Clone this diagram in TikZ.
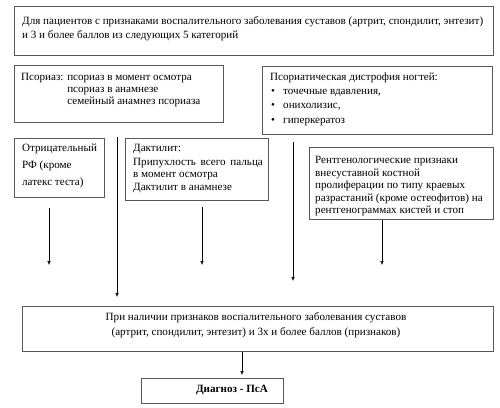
\documentclass[tikz,border=0pt]{standalone}
\usepackage{fontspec}
\setmainfont{Liberation Serif}
\usetikzlibrary{arrows.meta}
\begin{document}
\begin{tikzpicture}[x=1pt,y=-1pt,
  box/.style={draw=black!65,line width=0.8pt,rectangle,inner sep=0pt,anchor=north west},
  txt/.style={inner sep=0pt,anchor=base west,font=\fontsize{11.1}{13}\selectfont},
  ctxt/.style={inner sep=0pt,anchor=base,font=\fontsize{11.1}{13}\selectfont},
  arr/.style={draw=black,line width=0.6pt,-{Latex[length=4pt,width=3.6pt]}}]
\useasboundingbox (0,0) rectangle (500,407);
% boxes
\node[box,minimum width=479pt,minimum height=49pt] (top) at (14,6) {};
\node[box,minimum width=209pt,minimum height=57pt] (pso) at (14,65) {};
\node[box,minimum width=230pt,minimum height=68pt] (nail) at (262,66) {};
\node[box,minimum width=90pt,minimum height=59pt] (rf) at (14,138) {};
\node[box,minimum width=143pt,minimum height=62pt] (dac) at (125,138) {};
\node[box,minimum width=184pt,minimum height=72pt] (xray) at (309,147) {};
\node[box,minimum width=471pt,minimum height=45pt] (res) at (22,306) {};
\node[box,minimum width=142pt,minimum height=25pt] (diag) at (141,378) {};
% texts
\node[txt] (t1) at (22,24) {Для пациентов с признаками воспалительного заболевания суставов (артрит, спондилит, энтезит)};
\node[txt] (t2) at (22,38) {и 3 и более баллов из следующих 5 категорий};
\node[txt] (p1) at (21,80) {Псориаз: псориаз в момент осмотра};
\node[txt] (p2) at (21,92) {\phantom{Псориаз: }псориаз в анамнезе};
\node[txt] (p3) at (21,104) {\phantom{Псориаз: }семейный анамнез псориаза};
\node[txt] (n0) at (270,80) {Псориатическая дистрофия ногтей:};
\node[txt] (b1) at (271,94) {•};
\node[txt] (n1) at (283,94) {точечные вдавления,};
\node[txt] (b2) at (271,108) {•};
\node[txt] (n2) at (283,108) {онихолизис,};
\node[txt] (b3) at (271,123) {•};
\node[txt] (n3) at (283,123) {гиперкератоз};
\node[txt] (r1) at (22,151) {Отрицательный};
\node[txt] (r2) at (22,168) {РФ (кроме};
\node[txt] (r3) at (22,185) {латекс теста)};
\node[txt] (d1) at (133,151) {Дактилит:};
\node[txt] (d2) at (133,165) {Припухлость\hspace{2pt} всего\hspace{2pt} пальца};
\node[txt] (d3) at (133,177) {в момент осмотра};
\node[txt] (d4) at (133,190) {Дактилит в анамнезе};
\node[txt] (x1) at (315,163) {Рентгенологические признаки};
\node[txt] (x2) at (315,176) {внесуставной костной};
\node[txt] (x3) at (315,188) {пролиферации по типу краевых};
\node[txt] (x4) at (315,201) {разрастаний (кроме остеофитов) на};
\node[txt] (x5) at (315,213) {рентгенограммах кистей и стоп};
\node[ctxt] (s1) at (256,320) {При наличии признаков воспалительного заболевания суставов};
\node[ctxt] (s2) at (256,335) {(артрит, спондилит, энтезит) и 3х и более баллов (признаков)};
\node[ctxt,font=\fontsize{11.1}{13}\selectfont\bfseries] (g1) at (232,392) {Диагноз - ПсА};
% connector ends
\coordinate (a1s) at (49,208); \coordinate (a1e) at (49,265);
\coordinate (a2s) at (117,137); \coordinate (a2e) at (117,297);
\coordinate (a3s) at (202,207); \coordinate (a3e) at (202,265);
\coordinate (a4s) at (293,142); \coordinate (a4e) at (293,281);
\coordinate (a5e) at (382,265);
\coordinate (a6e) at (242,375);
\draw[arr] (a1s) -- (a1e);
\draw[arr] (a2s) -- (a2e);
\draw[arr] (a3s) -- (a3e);
\draw[arr] (a4s) -- (a4e);
\draw[arr] (xray.south -| a5e) -- (a5e);
\draw[arr] (res.south -| a6e) -- (a6e);
\end{tikzpicture}
\end{document}
